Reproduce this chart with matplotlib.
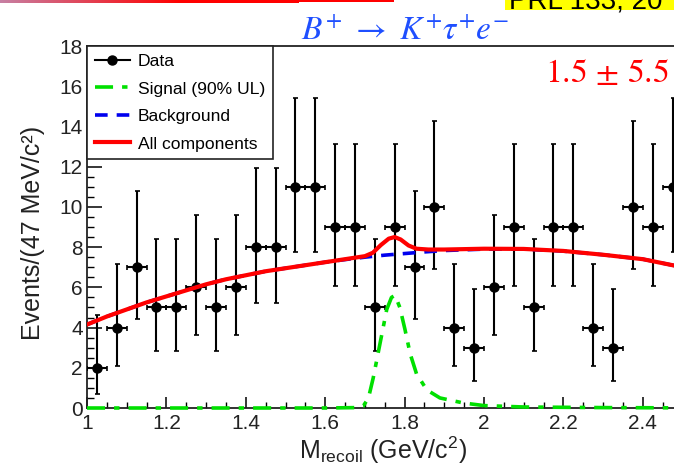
import numpy as np
import matplotlib
matplotlib.use("Agg")
import matplotlib.pyplot as plt
from matplotlib.ticker import MultipleLocator, FuncFormatter
from matplotlib.patches import Rectangle
from matplotlib.lines import Line2D

plt.rcParams['font.family'] = ['Liberation Sans', 'DejaVu Sans']
plt.rcParams['mathtext.fontset'] = 'custom'
plt.rcParams['mathtext.rm'] = 'Liberation Sans'
plt.rcParams['mathtext.it'] = 'Liberation Sans:italic'

# ---- data ----
bin_centers = [1.025, 1.075, 1.125, 1.175, 1.225, 1.275, 1.325, 1.375, 1.425, 1.475,
               1.525, 1.575, 1.625, 1.675, 1.725, 1.775, 1.825, 1.875, 1.925, 1.975,
               2.025, 2.075, 2.125, 2.175, 2.225, 2.275, 2.325, 2.375, 2.425, 2.475]
counts = [2, 4, 7, 5, 5, 6, 5, 6, 8, 8,
          11, 11, 9, 9, 5, 9, 7, 10, 4, 3,
          6, 9, 5, 9, 9, 4, 3, 10, 9, 11]
bin_half_width = 0.025
# Poisson 68% intervals (lower, upper) per count
poisson_interval = {2: (0.708, 4.638), 3: (1.367, 5.918), 4: (2.086, 7.163),
                    5: (2.840, 8.382), 6: (3.620, 9.584), 7: (4.419, 10.77),
                    8: (5.232, 11.95), 9: (6.057, 13.11), 10: (6.891, 14.27),
                    11: (7.734, 15.42)}

bkg_x = [1.0, 1.05, 1.1, 1.15, 1.2, 1.25, 1.3, 1.35, 1.4, 1.45, 1.5, 1.55, 1.6, 1.65,
         1.7, 1.75, 1.8, 1.85, 1.9, 2.0, 2.1, 2.2, 2.3, 2.4, 2.5, 2.6]
bkg_y = [4.15, 4.55, 4.9, 5.25, 5.55, 5.85, 6.15, 6.4, 6.6, 6.8, 6.95, 7.1, 7.25, 7.38,
         7.5, 7.6, 7.68, 7.76, 7.83, 7.9, 7.9, 7.8, 7.62, 7.4, 7.0, 6.5]

tot_x = [1.0, 1.05, 1.1, 1.15, 1.2, 1.25, 1.3, 1.35, 1.4, 1.45, 1.5, 1.55, 1.6, 1.65,
         1.7, 1.72, 1.74, 1.76, 1.775, 1.79, 1.81, 1.83, 1.86, 1.9, 2.0, 2.1, 2.2,
         2.3, 2.4, 2.5, 2.6]
tot_y = [4.15, 4.55, 4.9, 5.25, 5.55, 5.85, 6.15, 6.4, 6.6, 6.8, 6.95, 7.1, 7.25, 7.4,
         7.55, 7.72, 8.1, 8.42, 8.5, 8.38, 8.08, 7.92, 7.88, 7.88, 7.92, 7.91, 7.81,
         7.62, 7.4, 7.0, 6.5]

sig_x = [1.0, 1.6, 1.68, 1.696, 1.709, 1.721, 1.738, 1.755, 1.767, 1.776, 1.788,
         1.801, 1.814, 1.83, 1.856, 1.889, 1.948, 2.0, 2.1, 2.3, 2.6]
sig_y = [0.0, 0.0, 0.02, 0.1, 0.5, 1.5, 3.2, 4.9, 5.5, 5.6, 5.0,
         3.9, 2.7, 1.7, 0.9, 0.5, 0.25, 0.12, 0.05, 0.02, 0.0]

legend_labels = ["Data", "Signal (90% UL)", "Background", "All components"]
title_text = r"$B^{+}\ \rightarrow\ K^{+}\tau^{+}e^{-}$"
result_text = r"$1.5\,\pm\,5.5$"
ref_text = "PRL 133, 20"

# ---- figure ----
W, H = 674, 469
fig = plt.figure(figsize=(W / 100, H / 100), dpi=100)

x0, x1 = 1.0, 2.6
ax_left_px, ax_right_px = 87, 87 + (x1 - x0) * 397
ax_top_px, ax_bot_px = 46, 408
ax = fig.add_axes([ax_left_px / W, 1 - ax_bot_px / H,
                   (ax_right_px - ax_left_px) / W, (ax_bot_px - ax_top_px) / H])

low = [c - poisson_interval[c][0] for c in counts]
high = [poisson_interval[c][1] - c for c in counts]

ax.errorbar(bin_centers, counts, xerr=bin_half_width, yerr=[low, high],
            fmt='o', color='black', ms=6.5, elinewidth=1.5, capsize=1.8,
            capthick=1.2, zorder=4)
sig_line, = ax.plot(sig_x, sig_y, color='#00e000', lw=2.6, dashes=(5, 2.5, 1.5, 2.5),
                    zorder=5, clip_on=False)
bkg_line, = ax.plot(bkg_x, bkg_y, color='#0000ee', lw=2.6, dashes=(3.5, 2.5),
                    zorder=5)
tot_line, = ax.plot(tot_x, tot_y, color='#ff0000', lw=3.0, zorder=6)

ax.set_xlim(x0, x1)
ax.set_ylim(0, 18)
ax.xaxis.set_major_locator(MultipleLocator(0.2))
ax.xaxis.set_minor_locator(MultipleLocator(0.05))
ax.yaxis.set_major_locator(MultipleLocator(2))
ax.yaxis.set_minor_locator(MultipleLocator(0.5))
ax.xaxis.set_major_formatter(FuncFormatter(
    lambda v, p: ("%g" % round(v, 3)) if v < 2.5 else ""))
ax.tick_params(axis='x', which='major', direction='in', length=8, width=1.1,
               labelsize=15, pad=4, top=False, colors='black', labelcolor='#222222')
ax.tick_params(axis='x', which='minor', direction='in', length=4, width=1.0, top=False)
ax.tick_params(axis='y', which='major', direction='in', length=11, width=1.1,
               labelsize=15, pad=3, right=False, labelcolor='#222222')
ax.tick_params(axis='y', which='minor', direction='in', length=5, width=1.0, right=False)
for s in ax.spines.values():
    s.set_linewidth(1.3)
    s.set_color('#222222')

fig.text(33 / W, 1 - 233 / H, "Events/(47 MeV/c²)", rotation=90, ha='center',
         va='center', fontsize=18, color='#222222')
fig.text(383 / W, 1 - 450 / H, r"M$_{\rm recoil}$ (GeV/c$^{2}$)", ha='center',
         va='center', fontsize=18, color='#222222')

data_handle = Line2D([], [], color='black', marker='o', ms=6.5, lw=1.5)
leg = ax.legend(handles=[data_handle, sig_line, bkg_line, tot_line],
                labels=legend_labels, loc='upper left', bbox_to_anchor=(0, 1),
                borderaxespad=0, fontsize=12.6, frameon=True, fancybox=False,
                edgecolor='#222222', framealpha=1, handlelength=2.0,
                handletextpad=0.45, labelspacing=0.7, borderpad=0.45)
leg.get_frame().set_linewidth(1.2)
leg.set_zorder(10)

# title and annotations
fig.text(405 / W, 1 - 40 / H, title_text, ha='center', va='baseline', fontsize=24,
         color='#1f4fff', math_fontfamily='stix')
fig.text(607 / W, 1 - 82 / H, result_text, ha='center', va='baseline', fontsize=24,
         color='#ff0000', math_fontfamily='stix')

# top-left gradient bar
grad_ax = fig.add_axes([0, 1 - 3.5 / H, 299 / W, 3.5 / H])
g = np.linspace(0, 1, 300)
c0 = np.array([0.78, 0.50, 0.64])
c1 = np.array([1.0, 0.0, 0.0])
t = np.clip(g / 0.6, 0, 1)[:, None]
cols = (1 - t) * c0 + t * c1
grad_ax.imshow(cols[None, :, :], aspect='auto', extent=(0, 1, 0, 1))
grad_ax.axis('off')
fig.patches.append(Rectangle((299 / W, 1 - 2.2 / H), (394 - 299) / W, 2.2 / H,
                             transform=fig.transFigure, color='#ff0000', lw=0))

# yellow reference box (cropped at the top edge, as in the source)
fig.patches.append(Rectangle((505 / W, 1 - 10.5 / H), (W - 505) / W, 10.5 / H,
                             transform=fig.transFigure, color='#ffff00', lw=0))
fig.text(509 / W, 1 - 8 / H, ref_text, ha='left', va='baseline', fontsize=20,
         color='black')

fig.savefig("out.png", dpi=100)
